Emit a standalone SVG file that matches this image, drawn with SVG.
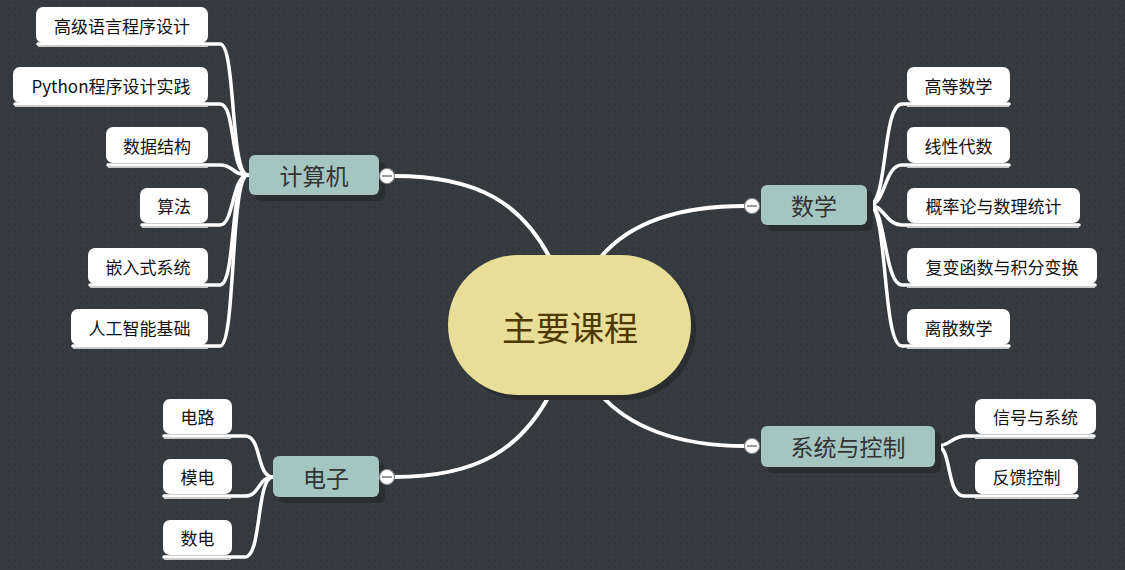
<svg xmlns="http://www.w3.org/2000/svg" width="1125" height="570" viewBox="0 0 1125 570">
<defs>
<pattern id="dots" width="6" height="6" patternUnits="userSpaceOnUse">
<rect width="6" height="6" fill="#363b3f"/>
<rect x="2" y="2" width="1.5" height="1.5" fill="#2e3236"/>
</pattern>
<style>
.conn{fill:none;stroke:#ffffff;stroke-width:3.5;stroke-linecap:round}
.main{fill:none;stroke:#ffffff;stroke-width:4}
.uline{stroke:#c9c9c9;stroke-width:1.2}
.leaf rect{fill:#ffffff}
.leaf text{font-family:"Noto Sans CJK SC","Noto Sans",sans-serif;font-size:17px;fill:#111;text-anchor:middle;dominant-baseline:central}
.branch .bg{fill:#A4C5C0}
.branch .sh{fill:#2a2e31}
.branch text{font-family:"Noto Sans CJK SC","Noto Sans",sans-serif;font-size:23px;fill:#333;text-anchor:middle;dominant-baseline:central}
.col circle{fill:#ffffff;stroke:#8a8a8a;stroke-width:1.2}
.col line{stroke:#666;stroke-width:1.3}
</style>
</defs>
<rect width="1125" height="570" fill="url(#dots)"/>

<g id="connectors">
<path class="main" d="M394 176 C480 176 522 205 550 258"/>
<path class="main" d="M600 258 C628 224 676 206 745 206"/>
<path class="main" d="M394 477 C480 477 522 447 550 394"/>
<path class="main" d="M600 394 C628 426 676 446 745 446"/>
<path class="conn" d="M38 44 H220 C236 44 230 175 248 175"/>
<path class="conn" d="M15 104 H220 C236 104 230 175 248 175"/>
<path class="conn" d="M108 165 H220 C234 165 232 175 248 175"/>
<path class="conn" d="M142 225 H220 C234 225 232 175 248 175"/>
<path class="conn" d="M90 285 H220 C236 285 230 175 248 175"/>
<path class="conn" d="M73 346 H220 C236 346 230 175 248 175"/>
<line class="uline" x1="38" y1="46.5" x2="208" y2="46.5"/>
<line class="uline" x1="15" y1="106.5" x2="208" y2="106.5"/>
<line class="uline" x1="108" y1="167.5" x2="208" y2="167.5"/>
<line class="uline" x1="142" y1="227.5" x2="208" y2="227.5"/>
<line class="uline" x1="90" y1="287.5" x2="208" y2="287.5"/>
<line class="uline" x1="73" y1="348.5" x2="208" y2="348.5"/>
<path class="conn" d="M869 205 C888 205 882 104 902 104 H1009"/>
<path class="conn" d="M869 205 C886 205 884 165 902 165 H1009"/>
<path class="conn" d="M869 205 C884 205 886 225 902 225 H1079"/>
<path class="conn" d="M869 205 C886 205 884 285 902 285 H1095"/>
<path class="conn" d="M869 205 C888 205 882 346 902 346 H1009"/>
<line class="uline" x1="907" y1="106.5" x2="1009" y2="106.5"/>
<line class="uline" x1="907" y1="167.5" x2="1009" y2="167.5"/>
<line class="uline" x1="907" y1="227.5" x2="1079" y2="227.5"/>
<line class="uline" x1="907" y1="287.5" x2="1095" y2="287.5"/>
<line class="uline" x1="907" y1="348.5" x2="1009" y2="348.5"/>
<path class="conn" d="M164 436 H245 C262 436 256 477 273 477"/>
<path class="conn" d="M164 496 H245 C260 496 258 477 273 477"/>
<path class="conn" d="M164 557 H245 C262 557 256 477 273 477"/>
<line class="uline" x1="164" y1="438.5" x2="231" y2="438.5"/>
<line class="uline" x1="164" y1="498.5" x2="231" y2="498.5"/>
<line class="uline" x1="164" y1="559.5" x2="231" y2="559.5"/>
<path class="conn" d="M937 446 C950 446 952 436 966 436 H1094"/>
<path class="conn" d="M937 446 C952 446 946 496 964 496 H1077"/>
<line class="uline" x1="975" y1="438.5" x2="1094" y2="438.5"/>
<line class="uline" x1="975" y1="498.5" x2="1077" y2="498.5"/>
</g>

<g id="center">
<rect x="453" y="260" width="243" height="140" rx="70" fill="#2a2e31"/>
<rect x="448" y="255" width="243" height="140" rx="70" fill="#E8DE97"/>
<text x="570" y="326" font-family="Noto Sans CJK SC, Noto Sans, sans-serif" font-size="34" fill="#4D3800" text-anchor="middle" dominant-baseline="central">主要课程</text>
</g>

<g id="b-computer" class="branch">
<rect class="sh" x="255" y="161" width="130" height="40" rx="6"/>
<rect class="bg" x="249" y="155" width="130" height="40" rx="6"/>
<text x="314" y="175">计算机</text>
<g class="col"><circle cx="387" cy="176" r="7.5"/><line x1="382" y1="176" x2="392" y2="176"/></g>
</g>
<g id="b-math" class="branch">
<rect class="sh" x="767" y="191" width="106" height="40" rx="6"/>
<rect class="bg" x="761" y="185" width="106" height="40" rx="6"/>
<text x="814" y="205">数学</text>
<g class="col"><circle cx="752" cy="206" r="7.5"/><line x1="747" y1="206" x2="757" y2="206"/></g>
</g>
<g id="b-elec" class="branch">
<rect class="sh" x="279" y="462" width="106" height="41" rx="6"/>
<rect class="bg" x="273" y="456" width="106" height="41" rx="6"/>
<text x="326" y="477">电子</text>
<g class="col"><circle cx="387" cy="477" r="7.5"/><line x1="382" y1="477" x2="392" y2="477"/></g>
</g>
<g id="b-sys" class="branch">
<rect class="sh" x="767" y="432" width="174" height="41" rx="6"/>
<rect class="bg" x="761" y="426" width="174" height="41" rx="6"/>
<text x="848" y="446">系统与控制</text>
<g class="col"><circle cx="752" cy="446" r="7.5"/><line x1="747" y1="446" x2="757" y2="446"/></g>
</g>

<g id="l-c1" class="leaf"><rect x="36" y="7" width="172" height="36" rx="7"/><text x="122" y="25">高级语言程序设计</text></g>
<g id="l-c2" class="leaf"><rect x="13" y="67" width="195" height="36" rx="7"/><text x="111" y="85">Python程序设计实践</text></g>
<g id="l-c3" class="leaf"><rect x="106" y="127" width="102" height="36" rx="7"/><text x="157" y="145">数据结构</text></g>
<g id="l-c4" class="leaf"><rect x="140" y="188" width="68" height="35" rx="7"/><text x="174" y="205.5">算法</text></g>
<g id="l-c5" class="leaf"><rect x="88" y="248" width="120" height="36" rx="7"/><text x="148" y="266">嵌入式系统</text></g>
<g id="l-c6" class="leaf"><rect x="71" y="309" width="137" height="36" rx="7"/><text x="139.5" y="327">人工智能基础</text></g>

<g id="l-m1" class="leaf"><rect x="907" y="67" width="103" height="36" rx="7"/><text x="958.5" y="85">高等数学</text></g>
<g id="l-m2" class="leaf"><rect x="907" y="127" width="103" height="36" rx="7"/><text x="958.5" y="145">线性代数</text></g>
<g id="l-m3" class="leaf"><rect x="907" y="188" width="173" height="35" rx="7"/><text x="993.5" y="205.5">概率论与数理统计</text></g>
<g id="l-m4" class="leaf"><rect x="907" y="248" width="190" height="36" rx="7"/><text x="1002" y="266">复变函数与积分变换</text></g>
<g id="l-m5" class="leaf"><rect x="907" y="309" width="103" height="36" rx="7"/><text x="958.5" y="327">离散数学</text></g>

<g id="l-e1" class="leaf"><rect x="163" y="399" width="69" height="35" rx="7"/><text x="197.5" y="416.5">电路</text></g>
<g id="l-e2" class="leaf"><rect x="163" y="459" width="69" height="35" rx="7"/><text x="197.5" y="476.5">模电</text></g>
<g id="l-e3" class="leaf"><rect x="163" y="520" width="69" height="35" rx="7"/><text x="197.5" y="537.5">数电</text></g>

<g id="l-s1" class="leaf"><rect x="975" y="399" width="121" height="35" rx="7"/><text x="1035.5" y="416.5">信号与系统</text></g>
<g id="l-s2" class="leaf"><rect x="975" y="459" width="103" height="35" rx="7"/><text x="1026.5" y="476.5">反馈控制</text></g>
</svg>
